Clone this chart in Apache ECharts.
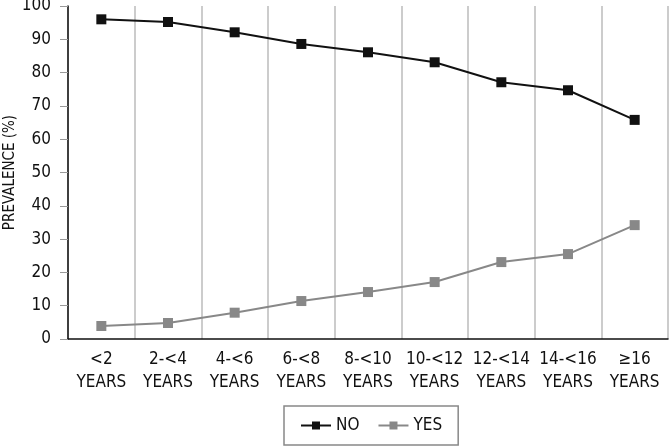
<!DOCTYPE html>
<html><head><meta charset="utf-8">
<script src="https://cdn.jsdelivr.net/npm/echarts@6/dist/echarts.min.js"></script>
<style>html,body{margin:0;padding:0;background:#fff}#c{width:669px;height:446px}</style>
</head><body><div id="c"></div>
<script>
const categories = ['<2\nYEARS','2-<4\nYEARS','4-<6\nYEARS','6-<8\nYEARS','8-<10\nYEARS','10-<12\nYEARS','12-<14\nYEARS','14-<16\nYEARS','≥16\nYEARS'];
const noValues = [96, 95.2, 92.1, 88.6, 86.1, 83.1, 77.1, 74.7, 65.8];
const yesValues = [3.9, 4.8, 7.9, 11.4, 14.1, 17.1, 23.1, 25.5, 34.2];
const yTicks = [0,10,20,30,40,50,60,70,80,90,100];
const FONT = '"Liberation Sans Narrow","DejaVu Sans Condensed",sans-serif';
const chart = echarts.init(document.getElementById('c'));
chart.setOption({
  animation:false,
  grid:{left:68,right:1,top:6,bottom:107,containLabel:false,outerBoundsMode:'none'},
  legend:{
    bottom:1,left:284,width:160,
    data:['NO','YES'],
    itemWidth:30,itemHeight:10,itemGap:18,
    padding:[11,16,11,16],
    borderColor:'#888',borderWidth:1.5,
    textStyle:{fontFamily:FONT,fontSize:17,color:'#111'}
  },
  xAxis:{
    type:'category',data:categories,boundaryGap:true,
    axisLine:{lineStyle:{color:'#111',width:1.5}},
    axisTick:{show:false},
    axisLabel:{fontFamily:FONT,fontSize:17,color:'#111',lineHeight:23,margin:9,interval:0},
    splitLine:{show:true,interval:0,lineStyle:{color:'#bbb',width:1.5}}
  },
  yAxis:{
    type:'value',min:0,max:100,interval:10,
    name:'PREVALENCE (%)',nameLocation:'middle',nameGap:50,nameRotate:90,nameMoveOverlap:false,
    nameTextStyle:{fontFamily:FONT,fontSize:15,color:'#111'},
    axisLine:{show:true,lineStyle:{color:'#111',width:1.5}},
    axisTick:{show:true,length:8,lineStyle:{color:'#999'}},
    axisLabel:{fontFamily:FONT,fontSize:17,color:'#111',margin:17,formatter:v=>yTicks.includes(v)?String(v):''},
    splitLine:{show:false}
  },
  series:[
    {name:'NO',type:'line',data:noValues,symbol:'rect',symbolSize:10,
     lineStyle:{color:'#111',width:2},itemStyle:{color:'#111'}},
    {name:'YES',type:'line',data:yesValues,symbol:'rect',symbolSize:10,
     lineStyle:{color:'#888',width:2},itemStyle:{color:'#888'}}
  ]
});
</script></body></html>
